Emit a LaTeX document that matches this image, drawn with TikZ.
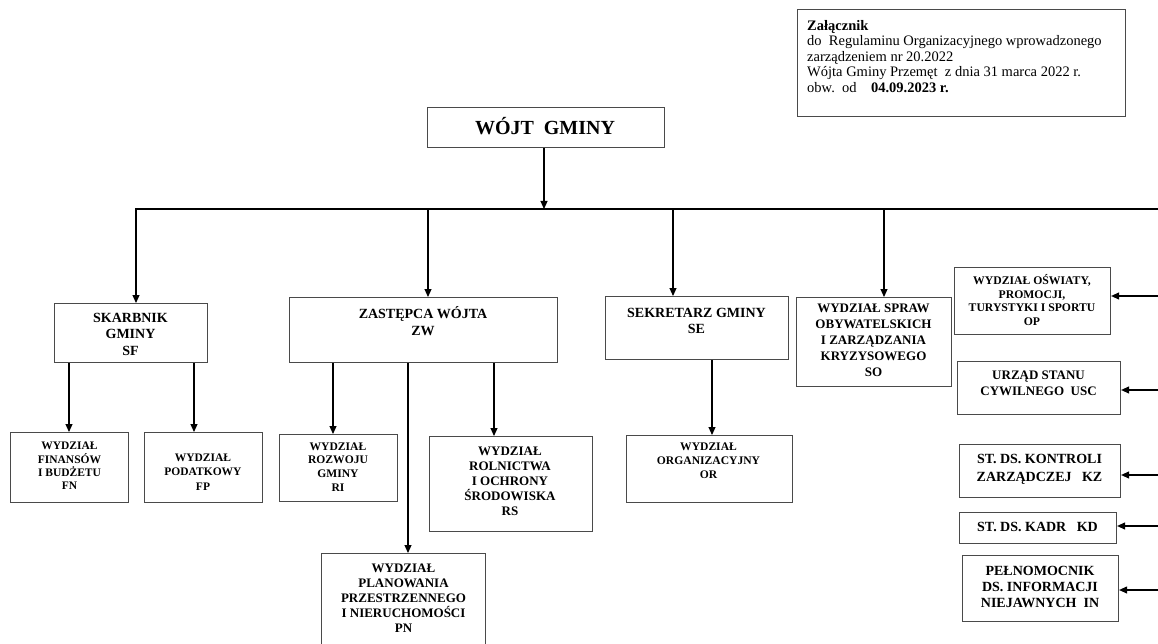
\documentclass[tikz,border=0pt]{standalone}
\usepackage{fontspec}
\setmainfont{Liberation Serif}
\usetikzlibrary{arrows.meta}
\definecolor{bordergray}{HTML}{4A4A4A}
\begin{document}
\begin{tikzpicture}[x=1pt,y=-1pt,
  box/.style={draw=bordergray, line width=1.1pt, inner sep=0pt, anchor=north west},
  arr/.style={-{Triangle[length=8pt,width=7pt]}, line width=1.1pt},
  ln/.style={line width=1.1pt},
  txt/.style={inner sep=0pt, align=center}]
\useasboundingbox (0,0) rectangle (1158,644);
\fill[white] (0,0) rectangle (1158,644);

% boxes
\node[box, minimum width=328, minimum height=107] (hdr) at (797,9) {};
\node[box, minimum width=237, minimum height=40] (wojt) at (427,107) {};
\node[box, minimum width=153, minimum height=59] (sf) at (54,303) {};
\node[box, minimum width=268, minimum height=65] (zw) at (289,297) {};
\node[box, minimum width=183, minimum height=63] (se) at (605,296) {};
\node[box, minimum width=155, minimum height=89] (so) at (796,297) {};
\node[box, minimum width=156, minimum height=67] (op) at (954,267) {};
\node[box, minimum width=163, minimum height=53] (usc) at (957,361) {};
\node[box, minimum width=161, minimum height=53] (kz) at (959,444) {};
\node[box, minimum width=157, minimum height=31] (kd) at (959,512) {};
\node[box, minimum width=156, minimum height=66] (in) at (962,555) {};
\node[box, minimum width=118, minimum height=70] (fn) at (10,432) {};
\node[box, minimum width=118, minimum height=70] (fp) at (144,432) {};
\node[box, minimum width=118, minimum height=67] (ri) at (279,434) {};
\node[box, minimum width=163, minimum height=95] (rs) at (429,436) {};
\node[box, minimum width=166, minimum height=67] (or) at (626,435) {};
\node[box, minimum width=164, minimum height=96] (pn) at (321,553) {};

% texts
\node[inner sep=0pt, anchor=north west, align=left, font=\fontsize{14.5}{15.5}\selectfont] (t-hdr) at (807,20)
 {\textbf{Załącznik}\\do\ \ Regulaminu Organizacyjnego wprowadzonego\\zarządzeniem nr 20.2022\\Wójta Gminy Przemęt\ \ z dnia 31 marca 2022 r.\\obw.\ \ od\ \ \ \ \textbf{04.09.2023 r.}};
\node[txt, font=\bfseries\fontsize{20}{22}\selectfont] (t-wojt) at (545,126) {WÓJT\ \ GMINY};
\node[txt, font=\bfseries\fontsize{14}{16.5}\selectfont] (t-sf) at (130.5,334) {SKARBNIK\\GMINY\\SF};
\node[txt, font=\bfseries\fontsize{14}{16.5}\selectfont] (t-zw) at (423,321) {ZASTĘPCA WÓJTA\\ZW};
\node[txt, font=\bfseries\fontsize{14}{16.5}\selectfont] (t-se) at (696.5,321) {SEKRETARZ GMINY\\SE};
\node[txt, font=\bfseries\fontsize{13}{16}\selectfont] (t-so) at (873.5,340) {WYDZIAŁ SPRAW\\OBYWATELSKICH\\I ZARZĄDZANIA\\KRYZYSOWEGO\\SO};
\node[txt, font=\bfseries\fontsize{11.7}{13.5}\selectfont] (t-op) at (1032,300) {WYDZIAŁ OŚWIATY,\\PROMOCJI,\\TURYSTYKI I SPORTU\\OP};
\node[txt, font=\bfseries\fontsize{13}{16}\selectfont] (t-usc) at (1038.5,383) {URZĄD STANU\\CYWILNEGO\ \ USC};
\node[txt, font=\bfseries\fontsize{14}{18}\selectfont] (t-kz) at (1039.5,469) {ST. DS. KONTROLI\\ZARZĄDCZEJ\ \ \ KZ};
\node[txt, font=\bfseries\fontsize{14}{16}\selectfont] (t-kd) at (1037.5,527) {ST. DS. KADR\ \ \ KD};
\node[txt, font=\bfseries\fontsize{14}{16}\selectfont] (t-in) at (1040,587) {PEŁNOMOCNIK\\DS. INFORMACJI\\NIEJAWNYCH\ \ IN};
\node[txt, font=\bfseries\fontsize{11.5}{13.2}\selectfont] (t-fn) at (69.5,466) {WYDZIAŁ\\FINANSÓW\\I BUDŻETU\\FN};
\node[txt, font=\bfseries\fontsize{11.5}{14.5}\selectfont] (t-fp) at (203,472) {WYDZIAŁ\\PODATKOWY\\FP};
\node[txt, font=\bfseries\fontsize{11.6}{13.7}\selectfont] (t-ri) at (338,467) {WYDZIAŁ\\ROZWOJU\\GMINY\\RI};
\node[txt, font=\bfseries\fontsize{13}{15}\selectfont] (t-rs) at (510,481) {WYDZIAŁ\\ROLNICTWA\\I OCHRONY\\ŚRODOWISKA\\RS};
\node[txt, font=\bfseries\fontsize{11.6}{14}\selectfont] (t-or) at (708.5,461) {WYDZIAŁ\\ORGANIZACYJNY\\OR};
\node[txt, font=\bfseries\fontsize{13}{15}\selectfont] (t-pn) at (403.5,598) {WYDZIAŁ\\PLANOWANIA\\PRZESTRZENNEGO\\I NIERUCHOMOŚCI\\PN};

% main connectors
\coordinate (hlL) at (135,209);
\coordinate (hlR) at (1158,209);
\coordinate (d0) at (544,0);
\draw[arr] (d0 |- wojt.south) -- (d0 |- hlL);
\draw[ln] (hlL) -- (hlR);
\coordinate (d1) at (136,0);
\coordinate (d2) at (428,0);
\coordinate (d3) at (673,0);
\coordinate (d4) at (884,0);
\draw[arr] (d1 |- hlL) -- (d1 |- sf.north);
\draw[arr] (d2 |- hlL) -- (d2 |- zw.north);
\draw[arr] (d3 |- hlL) -- (d3 |- se.north);
\draw[arr] (d4 |- hlL) -- (d4 |- so.north);

% right side
\coordinate (r1) at (1158,296);
\coordinate (r2) at (1158,390);
\coordinate (r3) at (1158,475);
\coordinate (r4) at (1158,526);
\coordinate (r5) at (1158,590);
\draw[arr] (r1) -- (r1 -| op.east);
\draw[arr] (r2) -- (r2 -| usc.east);
\draw[arr] (r3) -- (r3 -| kz.east);
\draw[arr] (r4) -- (r4 -| kd.east);
\draw[arr] (r5) -- (r5 -| in.east);

% sub connectors
\coordinate (s1) at (69,0);
\coordinate (s2) at (194,0);
\coordinate (s3) at (333,0);
\coordinate (s4) at (408,0);
\coordinate (s5) at (494,0);
\coordinate (s6) at (712,0);
\draw[arr] (s1 |- sf.south) -- (s1 |- fn.north);
\draw[arr] (s2 |- sf.south) -- (s2 |- fp.north);
\draw[arr] (s3 |- zw.south) -- (s3 |- ri.north);
\draw[arr] (s4 |- zw.south) -- (s4 |- pn.north);
\draw[arr] (s5 |- zw.south) -- (s5 |- rs.north);
\draw[arr] (s6 |- se.south) -- (s6 |- or.north);
\end{tikzpicture}
\end{document}
